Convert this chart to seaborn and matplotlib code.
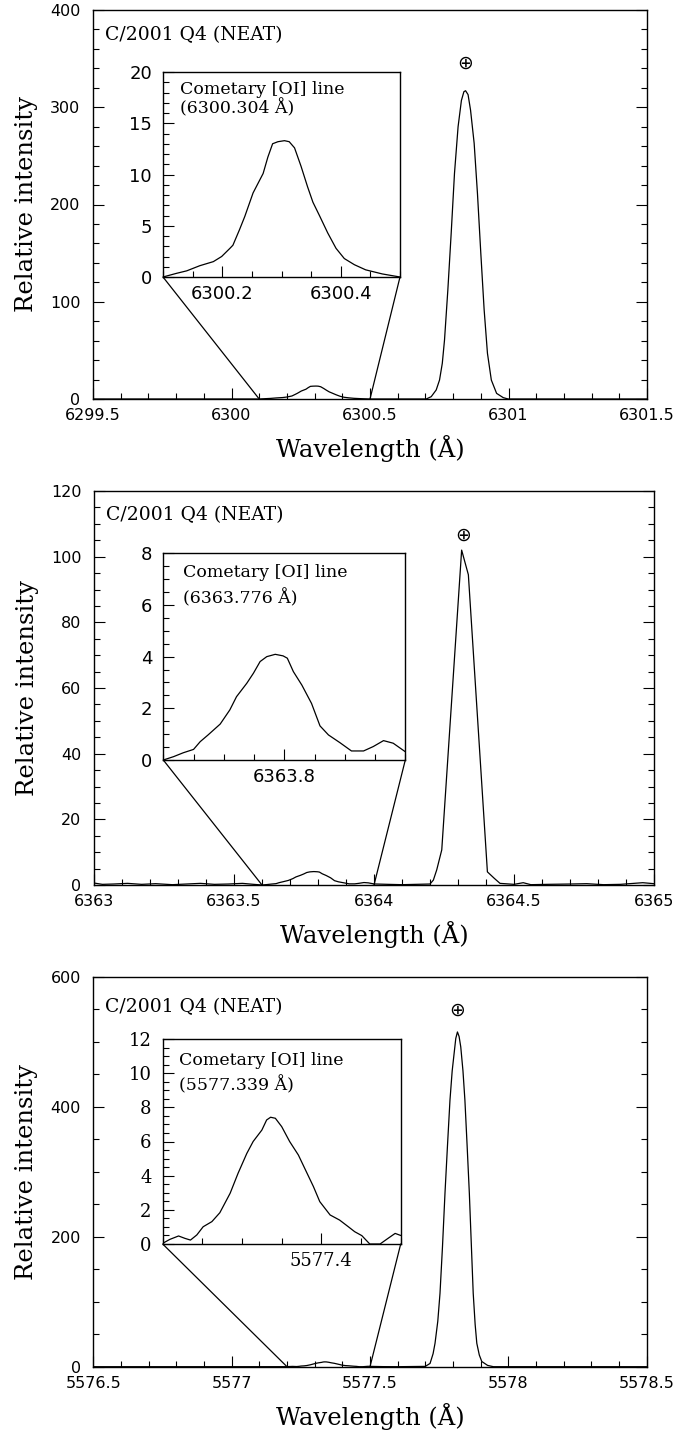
import matplotlib
matplotlib.use("Agg")
import matplotlib.pyplot as plt
from matplotlib.patches import ConnectionPatch
from matplotlib.ticker import MultipleLocator, FixedLocator, FuncFormatter
import pandas as pd
import seaborn as sns

sns.set_style("ticks")
plt.rcParams["font.family"] = ["DejaVu Sans"]
plt.rcParams["text.color"] = "black"
plt.rcParams["axes.labelcolor"] = "black"
plt.rcParams["xtick.color"] = "black"
plt.rcParams["ytick.color"] = "black"
plt.rcParams["axes.edgecolor"] = "black"
SERIF = ["DejaVu Serif", "DejaVu Sans"]

# ---------------- spectra (wavelength in Å, relative intensity) ----------------
# [OI] 6300 region
wl_6300 = [6299.5, 6300.0, 6300.100, 6300.123, 6300.140, 6300.162, 6300.185, 6300.199,
           6300.213, 6300.218, 6300.229, 6300.238, 6300.252, 6300.269, 6300.277, 6300.285,
           6300.294, 6300.305, 6300.313, 6300.322, 6300.333, 6300.344, 6300.353, 6300.364,
           6300.378, 6300.392, 6300.406, 6300.423, 6300.442, 6300.470, 6300.500, 6300.600,
           6300.703, 6300.721, 6300.739, 6300.751, 6300.761, 6300.769, 6300.781, 6300.793,
           6300.805, 6300.818, 6300.830, 6300.839, 6300.845, 6300.854, 6300.863, 6300.876,
           6300.888, 6300.900, 6300.912, 6300.924, 6300.938, 6300.957, 6300.981, 6300.999,
           6301.5]
flux_6300 = [0.0, 0.0, 0.0, 0.36, 0.6, 1.1, 1.5, 2.0,
             2.8, 3.1, 4.6, 5.9, 8.2, 10.1, 11.7, 13.0,
             13.2, 13.3, 13.2, 12.6, 10.8, 8.8, 7.3, 6.0,
             4.3, 2.8, 1.8, 1.2, 0.7, 0.3, 0.0, 0.0,
             0.0, 2.4, 9.3, 19.5, 36.7, 60.7, 112, 170,
             232, 280, 307, 316, 317, 313, 297, 263,
             211, 150, 92, 47, 19.5, 5.8, 1.4, 0.0,
             0.0]

# [OI] 6364 region
wl_6364 = [6363.00, 6363.03, 6363.07, 6363.12, 6363.17, 6363.22, 6363.28, 6363.33,
           6363.38, 6363.43, 6363.48, 6363.53, 6363.57, 6363.600, 6363.617, 6363.633,
           6363.650, 6363.661, 6363.674, 6363.694, 6363.710, 6363.721, 6363.738, 6363.749,
           6363.760, 6363.771, 6363.785, 6363.798, 6363.805, 6363.815, 6363.829, 6363.845,
           6363.859, 6363.873, 6363.892, 6363.911, 6363.931, 6363.947, 6363.964, 6363.980,
           6364.000, 6364.05, 6364.10, 6364.15, 6364.200, 6364.212, 6364.224, 6364.242,
           6364.313, 6364.337, 6364.405, 6364.430, 6364.450, 6364.500, 6364.533, 6364.560,
           6364.62, 6364.70, 6364.76, 6364.82, 6364.88, 6364.96, 6365.00]
flux_6364 = [0.6, 0.2, 0.3, 0.5, 0.2, 0.4, 0.1, 0.3,
             0.5, 0.2, 0.3, 0.5, 0.2, 0.0, 0.13, 0.28,
             0.41, 0.71, 0.97, 1.39, 1.94, 2.45, 2.97, 3.36,
             3.81, 4.0, 4.09, 4.03, 3.94, 3.42, 2.9, 2.19,
             1.32, 0.97, 0.67, 0.35, 0.35, 0.52, 0.75, 0.65,
             0.32, 0.2, 0.1, 0.2, 0.3, 1.5, 4.6, 10.7,
             102, 94.5, 4.0, 2.0, 0.5, 0.2, 0.7, 0.1,
             0.2, 0.3, 0.4, 0.1, 0.2, 0.7, 0.4]

# [OI] 5577 region
wl_5577 = [5576.5, 5577.0, 5577.200, 5577.209, 5577.220, 5577.228, 5577.235, 5577.243,
           5577.251, 5577.262, 5577.272, 5577.285, 5577.295, 5577.306, 5577.314, 5577.325,
           5577.331, 5577.336, 5577.342, 5577.350, 5577.360, 5577.371, 5577.379, 5577.390,
           5577.398, 5577.411, 5577.423, 5577.434, 5577.442, 5577.451, 5577.461, 5577.474,
           5577.484, 5577.493, 5577.500, 5577.550, 5577.600, 5577.700, 5577.717, 5577.728,
           5577.735, 5577.745, 5577.753, 5577.762, 5577.771, 5577.780, 5577.789, 5577.797,
           5577.804, 5577.810, 5577.816, 5577.822, 5577.828, 5577.836, 5577.843, 5577.851,
           5577.859, 5577.866, 5577.873, 5577.880, 5577.886, 5577.895, 5577.904, 5577.925,
           5577.946, 5578.5]
flux_5577 = [0.0, 0.0, 0.04, 0.27, 0.47, 0.33, 0.23, 0.53,
             1.01, 1.31, 1.83, 2.97, 4.14, 5.3, 6.0, 6.67,
             7.26, 7.42, 7.36, 6.87, 6.0, 5.21, 4.43, 3.36,
             2.48, 1.7, 1.4, 1.01, 0.72, 0.49, 0.0, 0.0,
             0.33, 0.62, 0.5, 0.1, 0.0, 0.5, 5, 20,
             36, 70, 113, 185, 267, 340, 410, 455,
             482, 505, 515, 508, 492, 455, 410, 340,
             267, 190, 113, 65, 36, 18, 8, 2,
             0.0, 0.0]

# cometary line rest wavelengths and telluric (⊕) line positions
comet_lines = ["6300.304", "6363.776", "5577.339"]
telluric_wl = [6300.842, 6364.318, 5577.816]
telluric_mark_y = [345, 106.5, 548]

# axis ranges
main_xlim = [(6299.5, 6301.5), (6363.0, 6365.0), (5576.5, 5578.5)]
main_ylim = [(0, 400), (0, 120), (0, 600)]
main_ystep = [(100, 20), (20, 5), (200, 50)]
inset_xlim = [(6300.1, 6300.5), (6363.6, 6364.0), (5577.2, 5577.5)]
inset_ylim = [(0, 20), (0, 8), (0, 12)]
inset_ystep = [(5, 1), (2, 0.5), (2, 0.5)]
inset_xticks = [[6300.2, 6300.4], [6363.8], [5577.4]]

spectra = [(wl_6300, flux_6300), (wl_6364, flux_6364), (wl_5577, flux_5577)]

# ---------------- layout (figure pixels: 696 x 1432) ----------------
W, H = 696.0, 1432.0
main_box = [(93, 10, 647, 399), (94, 491, 654, 885), (93.3, 976.7, 646.7, 1366.7)]
inset_box = [(163, 72, 400, 277), (163.3, 553.3, 405.3, 760), (162.7, 1039, 400.7, 1244)]
title_pos = [(0.0217, 0.923), (0.0214, 0.926), (0.0211, 0.910)]
note_pos = [((0.072, 0.893), (0.072, 0.799)),
            ((0.080, 0.884), (0.080, 0.758)),
            ((0.070, 0.873), (0.070, 0.751))]
inset_num_family = [["DejaVu Sans"], ["DejaVu Sans"], SERIF]


def rect(box):
    x0, y0, x1, y1 = box
    return [x0 / W, 1 - y1 / H, (x1 - x0) / W, (y1 - y0) / H]


fmt = FuncFormatter(lambda v, p: f"{v:g}")

fig = plt.figure(figsize=(6.96, 14.32), dpi=100)

for i in range(3):
    wl, fl = spectra[i]
    df = pd.DataFrame({"wavelength": wl, "intensity": fl})

    # ---- main panel ----
    ax = fig.add_axes(rect(main_box[i]))
    sns.lineplot(data=df, x="wavelength", y="intensity", ax=ax, color="black",
                 linewidth=0.9, estimator=None, sort=False)
    ax.set_xlim(*main_xlim[i])
    ax.set_ylim(*main_ylim[i])
    ax.xaxis.set_major_locator(MultipleLocator(0.5))
    ax.xaxis.set_minor_locator(MultipleLocator(0.1))
    ax.yaxis.set_major_locator(MultipleLocator(main_ystep[i][0]))
    ax.yaxis.set_minor_locator(MultipleLocator(main_ystep[i][1]))
    ax.xaxis.set_major_formatter(fmt)
    ax.yaxis.set_major_formatter(fmt)
    ax.tick_params(which="both", direction="in", top=False, right=True,
                   left=True, bottom=True, labelright=False, width=0.8,
                   color="black")
    ax.tick_params(which="major", length=8)
    ax.tick_params(which="minor", length=4)
    ax.tick_params(axis="x", which="major", pad=6.5, labelsize=11.5)
    ax.tick_params(axis="y", which="major", pad=9, labelsize=11.5)
    for s in ax.spines.values():
        s.set_linewidth(1.0)
        s.set_color("black")

    hpx = main_box[i][3] - main_box[i][1]
    wpx = main_box[i][2] - main_box[i][0]
    ax.set_xlabel("Wavelength (Å)", family=SERIF, fontsize=17.5)
    ax.xaxis.set_label_coords(0.5, -58.0 / hpx)
    ax.xaxis.label.set_verticalalignment("baseline")
    ax.set_ylabel("Relative intensity", family=SERIF, fontsize=17.5)
    ax.yaxis.set_label_coords(-60.0 / wpx, 0.5)
    ax.yaxis.label.set_verticalalignment("baseline")

    ax.text(*title_pos[i], "C/2001 Q4 (NEAT)", transform=ax.transAxes,
            family=SERIF, fontsize=13.5, ha="left", va="baseline")
    ax.text(telluric_wl[i], telluric_mark_y[i], "⊕", ha="center", va="center",
            fontsize=13.5, family=["DejaVu Sans"])

    # ---- inset: zoom on the cometary line ----
    ins = fig.add_axes(rect(inset_box[i]))
    sns.lineplot(data=df, x="wavelength", y="intensity", ax=ins, color="black",
                 linewidth=0.9, estimator=None, sort=False)
    ins.set_xlim(*inset_xlim[i])
    ins.set_ylim(*inset_ylim[i])
    ins.xaxis.set_major_locator(FixedLocator(inset_xticks[i]))
    ins.xaxis.set_minor_locator(MultipleLocator(0.05))
    ins.yaxis.set_major_locator(MultipleLocator(inset_ystep[i][0]))
    ins.yaxis.set_minor_locator(MultipleLocator(inset_ystep[i][1]))
    ins.xaxis.set_major_formatter(fmt)
    ins.yaxis.set_major_formatter(fmt)
    ins.set_xlabel("")
    ins.set_ylabel("")
    ins.tick_params(which="both", direction="in", top=False, right=False,
                    width=0.8, color="black")
    ins.tick_params(which="major", length=8)
    ins.tick_params(which="minor", length=4.5)
    ins.tick_params(axis="x", which="major", pad=5.5, labelsize=13)
    ins.tick_params(axis="y", which="major", pad=8, labelsize=13)
    for lab in ins.get_xticklabels() + ins.get_yticklabels():
        lab.set_family(inset_num_family[i])
    for s in ins.spines.values():
        s.set_linewidth(1.0)
        s.set_color("black")

    (tx1, ty1), (tx2, ty2) = note_pos[i]
    ins.text(tx1, ty1, "Cometary [OI] line", transform=ins.transAxes,
             family=SERIF, fontsize=12.5, ha="left", va="baseline")
    ins.text(tx2, ty2, f"({comet_lines[i]} Å)", transform=ins.transAxes,
             family=SERIF, fontsize=12.5, ha="left", va="baseline")

    # connector lines from the inset's lower corners to the zoomed range
    for xv in inset_xlim[i]:
        con = ConnectionPatch(xyA=(xv, 0), coordsA=ins.transData,
                              xyB=(xv, 0), coordsB=ax.transData,
                              color="black", linewidth=0.9)
        fig.add_artist(con)

fig.savefig("out.png", dpi=100)
